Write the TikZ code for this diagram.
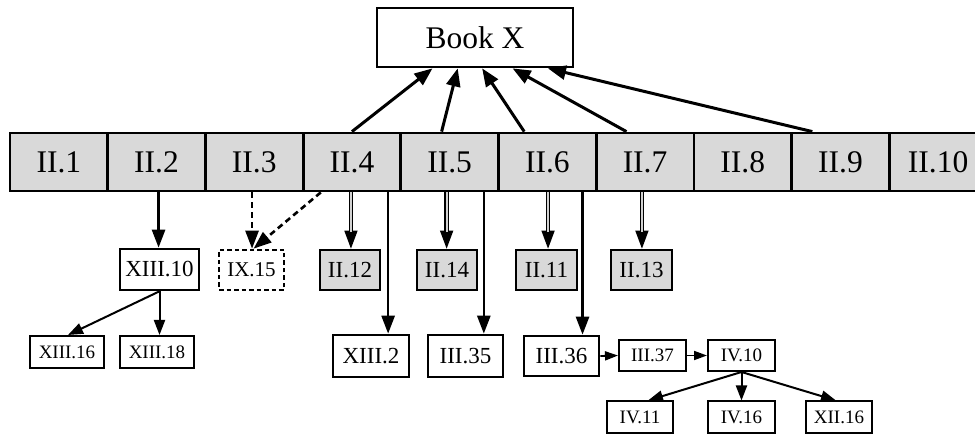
\documentclass[tikz,border=0pt]{standalone}
\usepackage{fontspec}
\setmainfont{Liberation Serif}
\usetikzlibrary{arrows.meta,calc}
\definecolor{cellgray}{RGB}{217,217,217}
\tikzset{
  bigbox/.style={draw, line width=2.8pt, inner sep=0pt, font=\fontsize{31.5}{31.5}\selectfont},
  cell/.style={bigbox, fill=cellgray, minimum width=97.7pt, minimum height=58pt},
  midbox/.style={draw, line width=2.6pt, inner sep=0pt, font=\fontsize{23}{23}\selectfont},
  graybox/.style={midbox, fill=cellgray},
  dashbox/.style={midbox, dash pattern=on 4.5pt off 3pt, font=\fontsize{21}{21}\selectfont},
  smallbox/.style={draw, line width=2pt, inner sep=0pt, font=\fontsize{19}{19}\selectfont},
  toparr/.style={line width=3pt, -{Triangle[length=18pt,width=14pt]}},
  arr/.style={line width=2.6pt, -{Triangle[length=18pt,width=13pt]}},
  dasharr/.style={arr, dash pattern=on 6pt off 4pt},
  tiparr/.style={line width=1.4pt, -{Triangle[length=18pt,width=13pt]}},
  dblline/.style={line width=1.4pt, double=gray!35, double distance=1.8pt, shorten >=17pt},
  smallarr/.style={line width=2pt, -{Triangle[length=15pt,width=11pt]}},
  tinyarr/.style={line width=1.8pt, -{Triangle[length=13pt,width=9pt]}},
}
\begin{document}
\begin{tikzpicture}[x=1pt,y=1pt]
\useasboundingbox (0,0) rectangle (975,-435);
\clip (0,0) rectangle (975,-435);

% top node
\node[bigbox, fill=white, minimum width=196pt, minimum height=59pt] (bookx) at (475,-37.5) {Book X};

% row of cells
\foreach \i in {1,...,10}
  \node[cell] (c\i) at ({10+97.7*(\i-0.5)},-162) {II.\i};

% second level
\node[midbox, minimum width=79pt, minimum height=41pt] (xiii10) at (159.5,-269.5) {XIII.10};
\node[dashbox, minimum width=65pt, minimum height=40pt] (ix15) at (251.5,-270) {IX.15};
\node[graybox, minimum width=60pt, minimum height=40pt] (ii12) at (350,-270) {II.12};
\node[graybox, minimum width=60pt, minimum height=40pt] (ii14) at (447,-270) {II.14};
\node[graybox, minimum width=61pt, minimum height=40pt] (ii11) at (546.5,-270) {II.11};
\node[graybox, minimum width=61pt, minimum height=40pt] (ii13) at (641.5,-270) {II.13};

% third level
\node[midbox, minimum width=76pt, minimum height=42pt] (xiii2) at (371,-356) {XIII.2};
\node[midbox, minimum width=75pt, minimum height=42pt] (iii35) at (465.5,-356) {III.35};
\node[midbox, minimum width=75pt, minimum height=40pt] (iii36) at (561.5,-356) {III.36};
\node[smallbox, minimum width=67pt, minimum height=31pt] (iii37) at (652.5,-355.5) {III.37};
\node[smallbox, minimum width=67pt, minimum height=31pt] (iv10) at (741.5,-355.5) {IV.10};
\node[smallbox, minimum width=74pt, minimum height=32pt] (xiii16) at (67,-352) {XIII.16};
\node[smallbox, minimum width=74pt, minimum height=32pt] (xiii18) at (157,-352) {XIII.18};

% fourth level
\node[smallbox, minimum width=66pt, minimum height=32pt] (iv11) at (640,-417.5) {IV.11};
\node[smallbox, minimum width=67pt, minimum height=32pt] (iv16) at (741.5,-417.5) {IV.16};
\node[smallbox, minimum width=66pt, minimum height=32pt] (xii16) at (839,-417.5) {XII.16};

% arrows to Book X
\draw[toparr] ($(c4.north west)!0.5!(c4.north east)$) -- ($(bookx.south west)!0.286!(bookx.south east)$);
\draw[toparr] ($(c5.north west)!0.42!(c5.north east)$) -- ($(bookx.south west)!0.413!(bookx.south east)$);
\draw[toparr] ($(c6.north west)!0.27!(c6.north east)$) -- ($(bookx.south west)!0.536!(bookx.south east)$);
\draw[toparr] ($(c7.north west)!0.315!(c7.north east)$) -- ($(bookx.south west)!0.689!(bookx.south east)$);
\draw[toparr] ($(c9.north west)!0.22!(c9.north east)$) -- ($(bookx.south west)!0.867!(bookx.south east)$);

% ports on the bottom of the cells
\coordinate (p2) at ($(c2.south west)!0.52!(c2.south east)$);
\coordinate (p3) at ($(c3.south west)!0.478!(c3.south east)$);
\coordinate (p4d) at ($(c4.south west)!0.19!(c4.south east)$);
\coordinate (p4a) at ($(c4.south west)!0.49!(c4.south east)$);
\coordinate (p4b) at ($(c4.south west)!0.86!(c4.south east)$);
\coordinate (p5a) at ($(c5.south west)!0.47!(c5.south east)$);
\coordinate (p5b) at ($(c5.south west)!0.84!(c5.south east)$);
\coordinate (p6a) at ($(c6.south west)!0.507!(c6.south east)$);
\coordinate (p6b) at ($(c6.south west)!0.85!(c6.south east)$);
\coordinate (p7a) at ($(c7.south west)!0.469!(c7.south east)$);

% II.2 -> XIII.10
\draw[arr] (p2) -- (p2 |- xiii10.north);
% dashed arrows to IX.15
\draw[dasharr] (p3) -- (p3 |- ix15.north);
\draw[dasharr] (p4d) -- ($(ix15.north)+(2,0)$);

% double arrows
\foreach \p/\t in {p4a/ii12, p5a/ii14, p6a/ii11, p7a/ii13}{
  \draw[tiparr] (\p) -- (\p |- \t.north);
  \draw[dblline] (\p) -- (\p |- \t.north);
}

% long arrows
\draw[arr] (p4b) -- (p4b |- xiii2.north);
\draw[arr] (p5b) -- (p5b |- iii35.north);
\draw[arr] (p6b) -- (p6b |- iii36.north);

% chain
\draw[tinyarr] (iii36.east) -- (iii37.west);
\draw[tinyarr] (iii37.east) -- (iv10.west);
\draw[smallarr] (iv10.south) -- ($(iv11.north)+(8,0)$);
\draw[smallarr] (iv10.south) -- (iv16.north);
\draw[smallarr] (iv10.south) -- ($(xii16.north)+(-3,0)$);

% XIII.10 children
\draw[smallarr] (xiii10.south) -- ($(xiii16.north)+(1,0)$);
\draw[smallarr] (xiii10.south) -- (xiii10.south |- xiii18.north);
\end{tikzpicture}
\end{document}
